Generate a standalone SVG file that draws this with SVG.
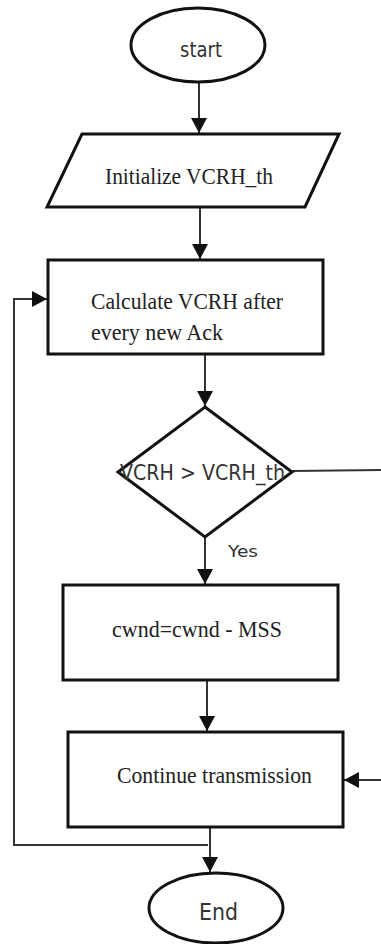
<svg xmlns="http://www.w3.org/2000/svg" width="381" height="944" viewBox="0 0 381 944">
<style>
.shape{fill:#fff;stroke:#111;stroke-width:3}
.conn{fill:none;stroke:#333;stroke-width:2}
.serif{font-family:"Liberation Serif","Times New Roman",serif;font-size:24px;fill:#222}
.sans{font-family:"DejaVu Sans","Noto Sans",sans-serif;fill:#333}
</style>
<defs>
<marker id="ah" markerWidth="15" markerHeight="16" refX="15" refY="8" orient="auto" markerUnits="userSpaceOnUse">
<path d="M0,0 L15,8 L0,16 Z" fill="#111"/>
</marker>
</defs>
<rect width="381" height="944" fill="#fff"/>
<g id="connectors">
<line class="conn" x1="199" y1="82" x2="199" y2="133" marker-end="url(#ah)"/>
<line class="conn" x1="200" y1="207" x2="200" y2="259" marker-end="url(#ah)"/>
<line class="conn" x1="205" y1="354" x2="205" y2="406" marker-end="url(#ah)"/>
<line class="conn" x1="205" y1="537" x2="205" y2="584" marker-end="url(#ah)"/>
<line class="conn" x1="207" y1="680" x2="207" y2="731" marker-end="url(#ah)"/>
<line class="conn" x1="210" y1="827" x2="210" y2="872" marker-end="url(#ah)"/>
<polyline class="conn" points="208,845 14,845 14,299 47,299" marker-end="url(#ah)"/>
<line class="conn" x1="292" y1="471" x2="381" y2="470"/>
<line class="conn" x1="381" y1="780" x2="344" y2="780" marker-end="url(#ah)"/>
<text class="sans" x="228" y="557" font-size="16" textLength="30" lengthAdjust="spacingAndGlyphs">Yes</text>
</g>
<g id="start">
<ellipse class="shape" cx="198" cy="45" rx="67" ry="37"/>
<text class="sans" x="180" y="57" font-size="21" textLength="42" lengthAdjust="spacingAndGlyphs">start</text>
</g>
<g id="init">
<polygon class="shape" points="82,134 339,134 305,207 47,207"/>
<text class="serif" x="105" y="184" textLength="168" lengthAdjust="spacingAndGlyphs">Initialize VCRH_th</text>
</g>
<g id="calc">
<rect class="shape" x="48" y="260" width="275" height="94"/>
<text class="serif" x="91" y="309" textLength="192" lengthAdjust="spacingAndGlyphs">Calculate VCRH after</text>
<text class="serif" x="91" y="340" textLength="132" lengthAdjust="spacingAndGlyphs">every new Ack</text>
</g>
<g id="decision">
<polygon class="shape" points="205,407 292,472 205,537 118,472"/>
<text class="sans" x="120" y="480" font-size="21" textLength="165" lengthAdjust="spacingAndGlyphs">VCRH &gt; VCRH_th</text>
</g>
<g id="cwnd">
<rect class="shape" x="63" y="585" width="275" height="95"/>
<text class="serif" x="112" y="637" textLength="170" lengthAdjust="spacingAndGlyphs">cwnd=cwnd - MSS</text>
</g>
<g id="continue">
<rect class="shape" x="68" y="732" width="275" height="95"/>
<text class="serif" x="117" y="783" textLength="195" lengthAdjust="spacingAndGlyphs">Continue transmission</text>
</g>
<g id="end">
<ellipse class="shape" cx="216" cy="908" rx="67" ry="35"/>
<text class="sans" x="199" y="920" font-size="23" textLength="39" lengthAdjust="spacingAndGlyphs">End</text>
</g>
</svg>
